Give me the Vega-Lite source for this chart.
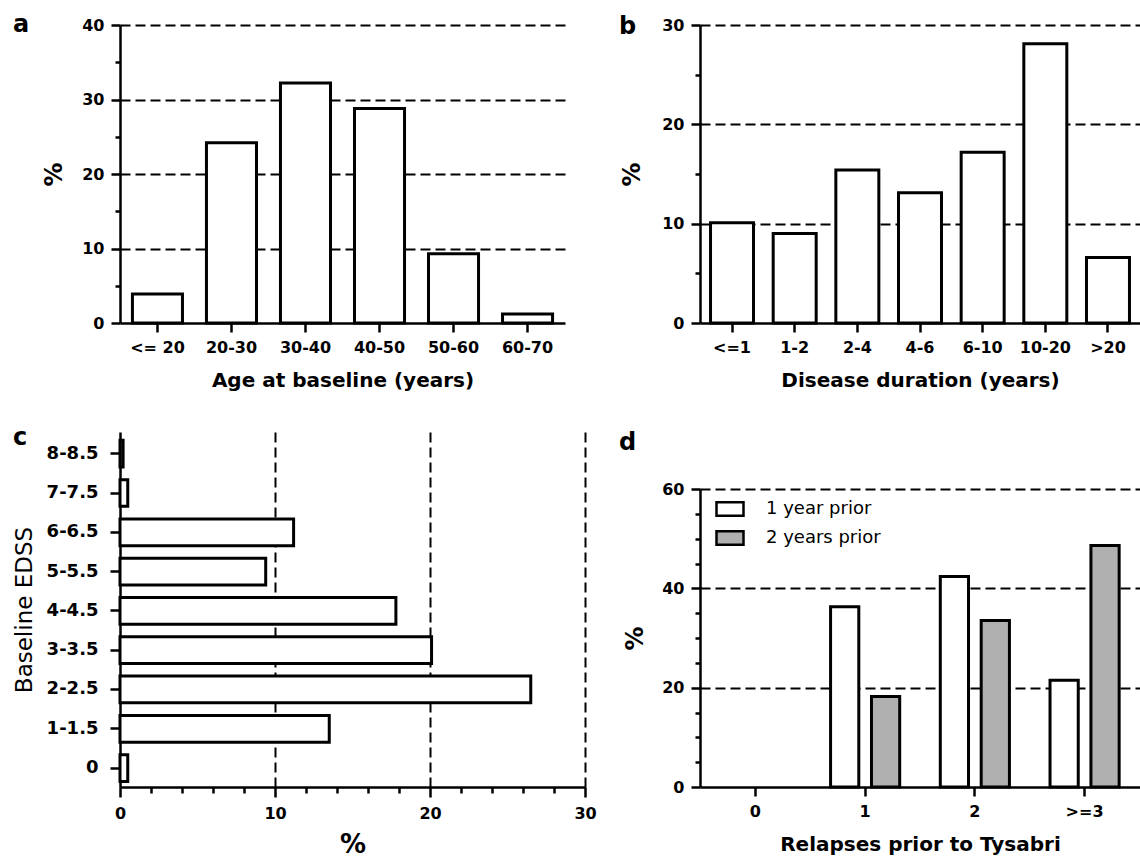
{
  "$schema": "https://vega.github.io/schema/vega-lite/v6.json",
  "background": "white",
  "padding": {"left": 13, "top": 13, "right": 0, "bottom": 0},
  "columns": 2,
  "spacing": {"row": 109, "column": 115},
  "bounds": "flush",
  "resolve": {"legend": {"fill": "independent"}},
  "config": {
    "view": {"stroke": null},
    "font": "DejaVu Sans",
    "axis": {
      "labelFont": "DejaVu Sans", "labelFontWeight": "bold", "labelFontSize": 16, "labelColor": "black",
      "titleFont": "DejaVu Sans", "titleFontWeight": "bold", "titleFontSize": 20, "titleColor": "black",
      "domainColor": "black", "domainWidth": 2.5, "tickColor": "black", "tickWidth": 2.5,
      "gridColor": "black", "gridDash": [10, 5], "gridWidth": 2, "labelPadding": 7
    },
    "title": {"font": "DejaVu Sans", "fontWeight": "bold", "fontSize": 24, "color": "black", "anchor": "start", "frame": "group", "baseline": "alphabetic", "offset": 0}
  },
  "concat": [
    {
      "width": 445, "height": 298,
      "title": {"text": "a", "dx": -107, "dy": 24},
      "data": {"values": [
        {"age": "<= 20", "pct": 3.9},
        {"age": "20-30", "pct": 24.2},
        {"age": "30-40", "pct": 32.2},
        {"age": "40-50", "pct": 28.8},
        {"age": "50-60", "pct": 9.3},
        {"age": "60-70", "pct": 1.2}
      ]},
      "mark": {"type": "bar", "fill": "white", "stroke": "black", "strokeWidth": 3},
      "encoding": {
        "x": {"field": "age", "type": "nominal", "sort": null,
          "scale": {"paddingInner": 0.324, "paddingOuter": 0.168},
          "axis": {"title": "Age at baseline (years)", "labelAngle": 0, "ticks": true, "tickSize": 9, "bandPosition": 0.5, "grid": false, "titlePadding": 15}},
        "y": {"field": "pct", "type": "quantitative", "scale": {"domain": [0, 40], "nice": false},
          "axis": {"title": "%", "titleFontSize": 24, "values": [0, 5, 10, 15, 20, 25, 30, 35, 40],
            "labelExpr": "datum.value % 10 === 0 ? datum.label : ''",
            "tickSize": {"condition": {"test": "datum.value % 10 === 0", "value": 9}, "value": 5},
            "grid": true,
            "gridOpacity": {"condition": {"test": "datum.value % 10 === 0 && datum.value > 0", "value": 1}, "value": 0},
            "minExtent": 38, "maxExtent": 38, "titlePadding": 16, "labelOverlap": false}}
      }
    },
    {
      "width": 440, "height": 298,
      "title": {"text": "b", "dx": -81, "dy": 26},
      "data": {"values": [
        {"dur": "<=1", "pct": 10.1},
        {"dur": "1-2", "pct": 9.0},
        {"dur": "2-4", "pct": 15.4},
        {"dur": "4-6", "pct": 13.1},
        {"dur": "6-10", "pct": 17.2},
        {"dur": "10-20", "pct": 28.1},
        {"dur": ">20", "pct": 6.6}
      ]},
      "mark": {"type": "bar", "fill": "white", "stroke": "black", "strokeWidth": 3},
      "encoding": {
        "x": {"field": "dur", "type": "nominal", "sort": null,
          "scale": {"paddingInner": 0.314, "paddingOuter": 0.168},
          "axis": {"title": "Disease duration (years)", "labelAngle": 0, "ticks": true, "tickSize": 9, "bandPosition": 0.5, "grid": false, "titlePadding": 15}},
        "y": {"field": "pct", "type": "quantitative", "scale": {"domain": [0, 30], "nice": false},
          "axis": {"title": "%", "titleFontSize": 24, "values": [0, 5, 10, 15, 20, 25, 30],
            "labelExpr": "datum.value % 10 === 0 ? datum.label : ''",
            "tickSize": {"condition": {"test": "datum.value % 10 === 0", "value": 9}, "value": 5},
            "grid": true,
            "gridOpacity": {"condition": {"test": "datum.value % 10 === 0 && datum.value > 0", "value": 1}, "value": 0},
            "minExtent": 38, "maxExtent": 38, "titlePadding": 18, "labelOverlap": false}}
      }
    },
    {
      "width": 465, "height": 355,
      "title": {"text": "c", "dx": -107, "dy": 22},
      "data": {"values": [
        {"edss": "8-8.5", "pct": 0.2},
        {"edss": "7-7.5", "pct": 0.5},
        {"edss": "6-6.5", "pct": 11.2},
        {"edss": "5-5.5", "pct": 9.4},
        {"edss": "4-4.5", "pct": 17.8},
        {"edss": "3-3.5", "pct": 20.1},
        {"edss": "2-2.5", "pct": 26.5},
        {"edss": "1-1.5", "pct": 13.5},
        {"edss": "0", "pct": 0.5}
      ]},
      "mark": {"type": "bar", "fill": "white", "stroke": "black", "strokeWidth": 3},
      "encoding": {
        "y": {"field": "edss", "type": "nominal", "sort": null,
          "scale": {"domain": ["8-8.5", "7-7.5", "6-6.5", "5-5.5", "4-4.5", "3-3.5", "2-2.5", "1-1.5", "0"], "paddingInner": 0.32, "paddingOuter": 0.177, "align": 0.6},
          "axis": {"title": "Baseline EDSS", "titleFontWeight": "normal", "titleFontSize": 23, "labelFontSize": 18, "tickSize": 10, "labelPadding": 12, "bandPosition": 0.5, "minExtent": 74, "maxExtent": 74, "titlePadding": 10, "grid": false}},
        "x": {"field": "pct", "type": "quantitative", "scale": {"domain": [0, 30], "nice": false},
          "axis": {"title": "%", "titleFontSize": 26, "values": [0, 2, 4, 6, 8, 10, 12, 14, 16, 18, 20, 22, 24, 26, 28, 30],
            "labelExpr": "datum.value % 10 === 0 ? datum.label : ''",
            "tickSize": {"condition": {"test": "datum.value % 10 === 0", "value": 10}, "value": 6},
            "grid": true,
            "gridOpacity": {"condition": {"test": "datum.value % 10 === 0 && datum.value > 0", "value": 1}, "value": 0},
            "labelFlush": false, "labelOverlap": false, "labelPadding": 8, "titlePadding": 10}}
      }
    },
    {
      "width": 440, "height": 355,
      "title": {"text": "d", "dx": -81, "dy": 27},
      "data": {"values": [
        {"rel": "1", "period": "1 year prior", "pct": 36.3},
        {"rel": "1", "period": "2 years prior", "pct": 18.2},
        {"rel": "2", "period": "1 year prior", "pct": 42.4},
        {"rel": "2", "period": "2 years prior", "pct": 33.5},
        {"rel": ">=3", "period": "1 year prior", "pct": 21.5},
        {"rel": ">=3", "period": "2 years prior", "pct": 48.6}
      ]},
      "mark": {"type": "bar", "stroke": "black", "strokeWidth": 3},
      "encoding": {
        "x": {"field": "rel", "type": "nominal",
          "scale": {"domain": ["0", "1", "2", ">=3"], "paddingInner": 0.37, "paddingOuter": 0.19},
          "axis": {"title": "Relapses prior to Tysabri", "labelAngle": 0, "ticks": true, "tickSize": 9, "bandPosition": 0.5, "grid": false, "titlePadding": 15}},
        "xOffset": {"field": "period", "type": "nominal",
          "scale": {"domain": ["1 year prior", "2 years prior"], "paddingInner": 0.31, "paddingOuter": 0}},
        "y": {"field": "pct", "type": "quantitative", "scale": {"domain": [0, 60], "nice": false, "range": [355, 57]},
          "axis": {"title": "%", "titleFontSize": 24, "values": [0, 5, 10, 15, 20, 25, 30, 35, 40, 45, 50, 55, 60],
            "labelExpr": "datum.value % 20 === 0 ? datum.label : ''",
            "tickSize": {"condition": {"test": "datum.value % 20 === 0", "value": 9}, "value": 5},
            "grid": true,
            "gridOpacity": {"condition": {"test": "datum.value % 20 === 0 && datum.value > 0", "value": 1}, "value": 0},
            "minExtent": 38, "maxExtent": 38, "titlePadding": 15, "labelOverlap": false}},
        "fill": {"field": "period", "type": "nominal",
          "scale": {"domain": ["1 year prior", "2 years prior"], "range": ["white", "#b0b0b0"]},
          "legend": {"title": null, "orient": "none", "legendX": 15, "legendY": 62,
            "symbolType": "M-1,-0.5H1V0.5H-1Z", "symbolSize": 729, "symbolStrokeColor": "black", "symbolStrokeWidth": 2.5, "symbolOpacity": 1,
            "labelFont": "DejaVu Sans", "labelFontSize": 18, "labelFontWeight": "normal", "labelColor": "black",
            "labelOffset": 21, "rowPadding": 2, "padding": 0, "labelLimit": 300}}
      }
    }
  ]
}
